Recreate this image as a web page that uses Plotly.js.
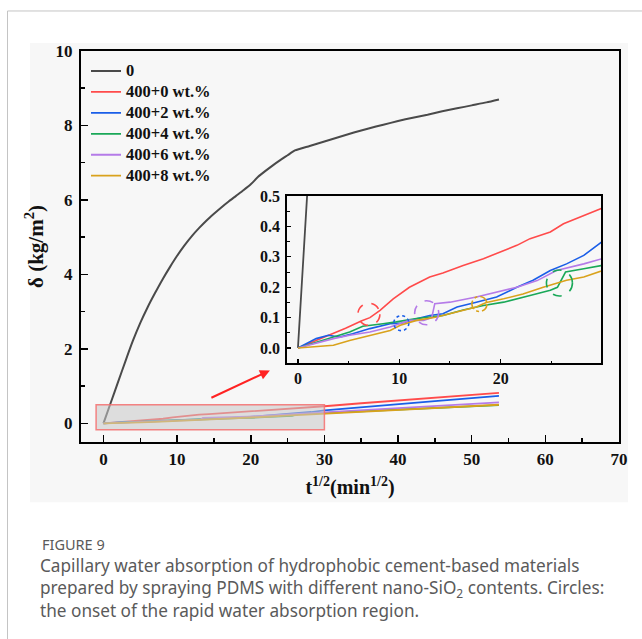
<!DOCTYPE html>
<html>
<head>
<meta charset="utf-8">
<script src="https://cdn.plot.ly/plotly-3.0.1.min.js"></script>
<style>
  html, body { margin: 0; padding: 0; background: #ffffff; }
  #chart { width: 642px; height: 639px; }
</style>
</head>
<body>
<div id="chart"></div>
<script>
// ---------- data ----------
const seriesNames = ["0", "400+0 wt.%", "400+2 wt.%", "400+4 wt.%", "400+6 wt.%", "400+8 wt.%"];

const t0 = [0, 1, 2, 3, 4, 5, 6, 7, 8, 9, 10, 11, 12, 13, 14, 15, 16, 17, 18, 19, 20, 21, 22, 23, 24, 25, 26, 28, 30, 32, 34, 36, 38, 40, 42, 44, 46, 48, 50, 52, 53.7];
const y0 = [0, 0.56, 1.12, 1.68, 2.22, 2.7, 3.12, 3.5, 3.86, 4.19, 4.5, 4.78, 5.03, 5.25, 5.45, 5.63, 5.8, 5.96, 6.11, 6.26, 6.42, 6.62, 6.78, 6.93, 7.07, 7.2, 7.33, 7.45, 7.57, 7.69, 7.81, 7.92, 8.02, 8.12, 8.21, 8.29, 8.38, 8.46, 8.54, 8.62, 8.70];

const tRed = [0, 1.5, 3.1, 4.7, 6.3, 7.1, 8.1, 9.4, 11.0, 13.0, 14.3, 16.3, 18.3, 20.3, 21.6, 22.9, 24.9, 26.2, 28.2, 30, 35, 40, 45, 50, 53.7];
const yRed = [0, 0.02, 0.042, 0.065, 0.09, 0.1, 0.124, 0.162, 0.2, 0.234, 0.247, 0.272, 0.294, 0.321, 0.338, 0.36, 0.382, 0.409, 0.436, 0.46, 0.54, 0.62, 0.69, 0.76, 0.82];

const tBlue = [0, 1.8, 3.0, 4.1, 5.4, 7.1, 9.1, 10.2, 11.7, 13.0, 14.3, 15.7, 17.6, 19.6, 21.6, 23.2, 24.9, 26.5, 28.2, 30, 35, 40, 45, 50, 53.7];
const yBlue = [0, 0.031, 0.042, 0.036, 0.047, 0.064, 0.08, 0.082, 0.096, 0.107, 0.113, 0.135, 0.151, 0.168, 0.2, 0.223, 0.255, 0.277, 0.305, 0.35, 0.44, 0.52, 0.6, 0.68, 0.74];

const tGreen = [0, 2, 4, 5.1, 6.4, 7.3, 8.4, 9.7, 11.7, 14.3, 16.3, 18.3, 20.3, 22.9, 24.9, 25.6, 26.4, 28.2, 30, 35, 40, 45, 50, 53.7];
const yGreen = [0, 0.02, 0.04, 0.053, 0.072, 0.075, 0.08, 0.086, 0.097, 0.107, 0.125, 0.14, 0.151, 0.173, 0.19, 0.2, 0.25, 0.261, 0.272, 0.32, 0.37, 0.41, 0.46, 0.49];

const tPurple = [0, 3.5, 5.1, 7.1, 9.1, 11.0, 12.4, 13.2, 13.5, 15.0, 17.6, 19.6, 21.6, 23.6, 25.5, 28.2, 30, 35, 40, 45, 50, 53.7];
const yPurple = [0, 0.031, 0.042, 0.053, 0.069, 0.091, 0.091, 0.1, 0.146, 0.151, 0.168, 0.184, 0.2, 0.222, 0.255, 0.277, 0.294, 0.35, 0.4, 0.46, 0.52, 0.565];

const tGold = [0, 3.5, 5.1, 7.1, 9.1, 10.1, 11.7, 13.7, 15.7, 17.6, 18.3, 18.6, 20.3, 22.2, 24.2, 26.5, 28.2, 30, 35, 40, 45, 50, 53.7];
const yGold = [0, 0.009, 0.025, 0.042, 0.058, 0.075, 0.091, 0.102, 0.118, 0.135, 0.146, 0.15, 0.162, 0.178, 0.2, 0.223, 0.234, 0.255, 0.31, 0.36, 0.41, 0.46, 0.5];

// onset circles (inset): centre t, centre δ, colour, dash
const circleT = [7.0, 10.2, 12.7, 17.9, 25.8];
const circleY = [0.111, 0.082, 0.116, 0.145, 0.214];
const circleR = [11, 7.5, 12, 7.5, 13];   // radius in px
const circleColor = ["#ff4b4b", "#1a5ee8", "#b57be8", "#d9a21c", "#1aa858"];
const circleDash = ["dash", "dot", "dash", "dashdot", "dash"];

const colors = ["#4a4a4a", "#ff4b4b", "#1a5ee8", "#1aa858", "#b57be8", "#d9a21c"];

const captionHead = "FIGURE 9";
const captionLines = [
  "Capillary water absorption of hydrophobic cement-based materials",
  "prepared by spraying PDMS with different nano-SiO<sub>2</sub> contents. Circles:",
  "the onset of the rapid water absorption region."
];

// ---------- build ----------
const allT = [t0, tRed, tBlue, tGreen, tPurple, tGold];
const allY = [y0, yRed, yBlue, yGreen, yPurple, yGold];

const serif = "Liberation Serif, Times New Roman, serif";
const tickFont = {family: serif, size: 17, color: "#111", weight: "bold"};
const insetTickFont = {family: serif, size: 16, color: "#111", weight: "bold"};

const traces = [];
for (let i = 0; i < allT.length; i++) {
  traces.push({
    x: allT[i], y: allY[i], type: "scatter", mode: "lines",
    name: '<span style="font-size:16.5px">' + seriesNames[i] + '</span>',
    xaxis: "x", yaxis: "y",
    line: {color: colors[i], width: i === 0 ? 2 : 1.8, shape: i === 0 ? "spline" : "linear", smoothing: 0.6},
    showlegend: true
  });
}
for (let i = 0; i < allT.length; i++) {
  traces.push({
    x: allT[i], y: allY[i], type: "scatter", mode: "lines",
    name: seriesNames[i], xaxis: "x2", yaxis: "y2",
    line: {color: colors[i], width: i === 0 ? 1.8 : 1.6},
    showlegend: false
  });
}

// plot area geometry (px)
const L = 81, R = 619, T = 51, B = 441.7, W = 642, H = 639;
const px2x = p => (p - L) / (R - L);
const px2y = p => (B - p) / (B - T);

// inset px scales
const insXpx = 10.13;   // px per unit t
const insYpx = 304;     // px per unit δ

const shapes = [
  {type: "rect", xref: "paper", yref: "paper", x0: px2x(30), x1: px2x(628), y0: px2y(502), y1: px2y(43),
   fillcolor: "#f7f7f7", line: {width: 0}, layer: "below"},
  {type: "line", xref: "paper", yref: "paper", x0: px2x(7.5), x1: px2x(642), y0: px2y(11), y1: px2y(11),
   line: {color: "#c4c4c4", width: 1}},
  {type: "line", xref: "paper", yref: "paper", x0: px2x(7.5), x1: px2x(7.5), y0: px2y(639), y1: px2y(11),
   line: {color: "#c4c4c4", width: 1}},
  {type: "rect", xref: "x", yref: "y", x0: -1, x1: 30, y0: -0.17, y1: 0.5,
   fillcolor: "rgba(200,200,200,0.55)", line: {color: "rgba(245,110,110,0.85)", width: 1.5}, layer: "above"}
];
for (let i = 0; i < circleT.length; i++) {
  const dx = circleR[i] / insXpx, dy = circleR[i] / insYpx;
  shapes.push({type: "circle", xref: "x2", yref: "y2",
    x0: circleT[i] - dx, x1: circleT[i] + dx, y0: circleY[i] - dy, y1: circleY[i] + dy,
    line: {color: circleColor[i], width: 1.6, dash: circleDash[i]}, layer: "above"});
}

const annotations = [
  {xref: "x", yref: "y", axref: "x", ayref: "y", x: 22.6, y: 1.42, ax: 14.45, ay: 0.67,
   showarrow: true, arrowhead: 2, arrowsize: 1, arrowwidth: 2, arrowcolor: "#ff2222", text: ""},
  {xref: "paper", yref: "paper", x: px2x(40), y: px2y(543.5), xanchor: "left", yanchor: "middle",
   showarrow: false, align: "left", text: captionHead,
   font: {family: "Noto Sans, Open Sans, sans-serif", size: 14.5, color: "#5a5a5a"}},
  {xref: "paper", yref: "paper", x: px2x(38), y: px2y(552), xanchor: "left", yanchor: "top",
   showarrow: false, align: "left", text: captionLines.join("<br>"),
   font: {family: "Noto Sans, Open Sans, sans-serif", size: 17.2, color: "#5a5a5a"}}
];

const baseAxis = {
  showgrid: false, zeroline: false, showline: true, linecolor: "#000", linewidth: 2, mirror: true,
  ticks: "inside", tickcolor: "#000", tickfont: tickFont
};

const layout = {
  width: W, height: H,
  margin: {l: L, r: W - R, t: T, b: H - B, pad: 0},
  paper_bgcolor: "#ffffff", plot_bgcolor: "#f7f7f7",
  showlegend: true,
  legend: {x: px2x(86), y: px2y(55.5), xanchor: "left", yanchor: "top", bgcolor: "rgba(0,0,0,0)",
           font: {family: serif, size: 13.8, color: "#111", weight: "bold"}, tracegroupgap: 0, itemwidth: 30},
  xaxis: Object.assign({}, baseAxis, {
    domain: [0, 1], range: [-3.05, 70], tickvals: [0, 10, 20, 30, 40, 50, 60, 70],
    ticklen: 7, tickwidth: 1.5, ticklabelstandoff: 1,
    minor: {tickvals: [5, 15, 25, 35, 45, 55, 65], ticks: "inside", ticklen: 4, tickwidth: 1.5, tickcolor: "#000"},
    title: {text: "t<sup>1/2</sup>(min<sup>1/2</sup>)", font: {family: serif, size: 20, color: "#111", weight: "bold"}, standoff: 12}
  }),
  yaxis: Object.assign({}, baseAxis, {
    domain: [0, 1], range: [-0.5, 10], tickvals: [0, 2, 4, 6, 8, 10],
    ticklen: 7, tickwidth: 1.5, ticklabelstandoff: 3,
    minor: {tickvals: [1, 3, 5, 7, 9], ticks: "inside", ticklen: 4, tickwidth: 1.5, tickcolor: "#000"},
    title: {text: "δ (kg/m<sup>2</sup>)", font: {family: serif, size: 21, color: "#111", weight: "bold"}, standoff: 6}
  }),
  xaxis2: Object.assign({}, baseAxis, {
    anchor: "y2", domain: [px2x(287), px2x(601)], range: [-1.08, 29.9], tickvals: [0, 10, 20],
    tickfont: insetTickFont, ticklen: 4, tickwidth: 1.2, linewidth: 1.8, ticklabelstandoff: 0,
    minor: {tickvals: [5, 15, 25], ticks: "inside", ticklen: 2.5, tickwidth: 1, tickcolor: "#000"}
  }),
  yaxis2: Object.assign({}, baseAxis, {
    anchor: "x2", domain: [px2y(363), px2y(196)], range: [-0.05, 0.5],
    tickvals: [0, 0.1, 0.2, 0.3, 0.4, 0.5], tickformat: ".1f",
    tickfont: insetTickFont, ticklen: 4, tickwidth: 1.2, linewidth: 1.8, ticklabelstandoff: 2,
    minor: {tickvals: [0.05, 0.15, 0.25, 0.35, 0.45], ticks: "inside", ticklen: 2.5, tickwidth: 1, tickcolor: "#000"}
  }),
  shapes: shapes,
  annotations: annotations
};

Plotly.newPlot("chart", traces, layout, {displayModeBar: false, staticPlot: true});
</script>
</body>
</html>
